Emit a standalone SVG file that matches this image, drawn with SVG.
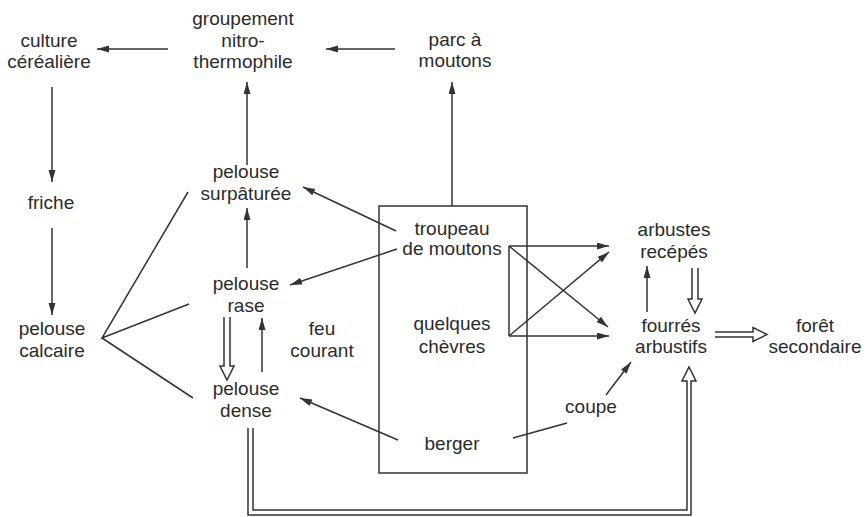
<svg xmlns="http://www.w3.org/2000/svg" width="867" height="517" viewBox="0 0 867 517">
<defs>
<marker id="ah" markerUnits="userSpaceOnUse" markerWidth="13" markerHeight="8" refX="12" refY="3.5" orient="auto">
<path d="M0,0 L12,3.5 L0,7 z" fill="#333"/>
</marker>
<style>
text{font-family:"Liberation Sans",Arial,sans-serif;font-size:19px;fill:#2b2b2b;text-anchor:middle}
.c line,.c path,.c polyline{stroke:#333;stroke-width:1.5;fill:none}
.a{marker-end:url(#ah)}
.box{fill:none;stroke:#333;stroke-width:1.5}
</style>
</defs>
<rect id="box" class="box" x="379" y="206" width="148" height="267"/>
<g id="culture"><text x="49" y="47">culture</text><text x="49" y="68">céréalière</text></g>
<g id="groupement"><text x="243" y="25">groupement</text><text x="243" y="47">nitro-</text><text x="243" y="68">thermophile</text></g>
<g id="parc"><text x="455" y="46">parc à</text><text x="455" y="67">moutons</text></g>
<g id="friche"><text x="51" y="209">friche</text></g>
<g id="calcaire"><text x="52" y="335">pelouse</text><text x="52" y="357">calcaire</text></g>
<g id="surpaturee"><text x="246" y="178">pelouse</text><text x="246" y="200">surpâturée</text></g>
<g id="rase"><text x="246" y="290">pelouse</text><text x="246" y="312">rase</text></g>
<g id="dense"><text x="246" y="395">pelouse</text><text x="246" y="417">dense</text></g>
<g id="feu"><text x="322" y="335">feu</text><text x="322" y="357">courant</text></g>
<g id="troupeau"><text x="452" y="235">troupeau</text><text x="452" y="255">de moutons</text></g>
<g id="chevres"><text x="452" y="330">quelques</text><text x="452" y="353">chèvres</text></g>
<g id="berger"><text x="452" y="450">berger</text></g>
<g id="coupe"><text x="591" y="413">coupe</text></g>
<g id="arbustes"><text x="674" y="236">arbustes</text><text x="674" y="258">recépés</text></g>
<g id="fourres"><text x="671" y="332">fourrés</text><text x="671" y="353">arbustifs</text></g>
<g id="foret"><text x="815" y="332">forêt</text><text x="815" y="353">secondaire</text></g>
<g id="connectors" class="c">
<line class="a" x1="168" y1="49" x2="97" y2="49"/>
<line class="a" x1="395" y1="49" x2="326" y2="49"/>
<line class="a" x1="52" y1="87" x2="52" y2="182"/>
<line class="a" x1="52" y1="228" x2="52" y2="315"/>
<line class="a" x1="247" y1="165" x2="247" y2="82"/>
<line class="a" x1="452" y1="206" x2="452" y2="82"/>
<line class="a" x1="247" y1="268" x2="247" y2="208"/>
<line class="a" x1="262" y1="372" x2="262" y2="318"/>
<path d="M224,317 V366 H220 L227,380 L234,366 H230 V317"/>
<polyline points="188,192 102,338 189,304"/>
<line x1="102" y1="338" x2="193" y2="398"/>
<line class="a" x1="396" y1="231" x2="303" y2="187"/>
<line class="a" x1="397" y1="249" x2="290" y2="285"/>
<line class="a" x1="398" y1="440" x2="300" y2="398"/>
<line x1="513" y1="438" x2="567" y2="423"/>
<line class="a" x1="606" y1="395" x2="631" y2="362"/>
<line class="a" x1="509" y1="246" x2="609" y2="246"/>
<line x1="509" y1="246" x2="509" y2="336"/>
<line class="a" x1="509" y1="336" x2="609" y2="336"/>
<line class="a" x1="509" y1="246" x2="608" y2="327"/>
<line class="a" x1="509" y1="336" x2="609" y2="252"/>
<line class="a" x1="647" y1="312" x2="647" y2="266"/>
<path d="M692,268 V299 H688 L695,313 L702,299 H698 V268"/>
<path d="M715,332 H753 V327.5 L767,334.5 L753,341.5 V337 H715"/>
<path d="M248,428 V515 H691 V381 H696 L689,367 L682,381 H687 V510 H253 V428"/>
</g>
</svg>
